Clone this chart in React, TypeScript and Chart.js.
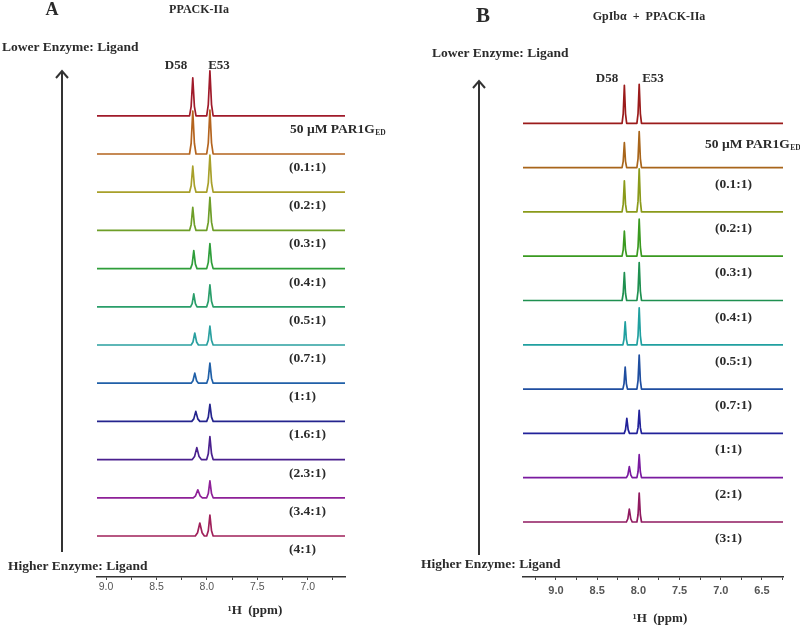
import React, { useEffect, useRef } from "react";
import { Chart, registerables } from "chart.js";

Chart.register(...registerables);

// ---------------- shared text ----------------
const freeLigandMain = "50 µM PAR1G";
const freeLigandSub = "ED";
const peakNames = ["D58", "E53"];
const lowerLabel = "Lower Enzyme: Ligand";
const higherLabel = "Higher Enzyme: Ligand";
const axisTitle = "¹H  (ppm)";

// ---------------- Panel A: PPACK-IIa ----------------
const panelLetterA = "A";
const panelTitleA = "PPACK-IIa";
const ratioLabelsA = ["(0.1:1)", "(0.2:1)", "(0.3:1)", "(0.4:1)", "(0.5:1)", "(0.7:1)", "(1:1)", "(1.6:1)", "(2.3:1)", "(3.4:1)", "(4:1)"];
const d58PpmA = [8.14, 8.14, 8.14, 8.14, 8.13, 8.13, 8.12, 8.12, 8.11, 8.1, 8.09, 8.07];
const d58HeightA = [38, 43, 26, 23, 18, 13, 12, 10, 10, 12, 8, 13];
const d58WidthA = [0.032, 0.032, 0.032, 0.032, 0.032, 0.032, 0.036, 0.036, 0.04, 0.045, 0.045, 0.045];
const e53PpmA = [7.97, 7.97, 7.97, 7.97, 7.97, 7.97, 7.97, 7.97, 7.97, 7.97, 7.97, 7.97];
const e53HeightA = [45, 44, 37, 33, 25, 22, 19, 20, 17, 23, 17, 21];
const e53WidthA = [0.032, 0.032, 0.032, 0.032, 0.032, 0.032, 0.032, 0.032, 0.032, 0.032, 0.032, 0.032];
const colorsA = ["#a01a2a", "#b4641e", "#a8a02a", "#6e9e28", "#2e9e3a", "#2a9e6a", "#2aa0a0", "#2060a8", "#24248e", "#4a208e", "#8e2098", "#a0205a"];
const ppmTicksA = [9.0, 8.75, 8.5, 8.25, 8.0, 7.75, 7.5, 7.25, 7.0, 6.75];

// ---------------- Panel B: GpIbα + PPACK-IIa ----------------
const panelLetterB = "B";
const panelTitleB = "GpIbα  +  PPACK-IIa";
const ratioLabelsB = ["(0.1:1)", "(0.2:1)", "(0.3:1)", "(0.4:1)", "(0.5:1)", "(0.7:1)", "(1:1)", "(2:1)", "(3:1)"];
const d58PpmB = [8.17, 8.17, 8.17, 8.17, 8.17, 8.16, 8.16, 8.14, 8.11, 8.11];
const d58HeightB = [38, 25, 31, 25, 28, 23, 22, 15, 11, 13];
const d58WidthB = [0.028, 0.028, 0.028, 0.028, 0.028, 0.028, 0.028, 0.032, 0.035, 0.035];
const e53PpmB = [7.99, 7.99, 7.99, 7.99, 7.99, 7.99, 7.99, 7.99, 7.99, 7.99];
const e53HeightB = [39, 36, 43, 37, 38, 37, 34, 23, 23, 29];
const e53WidthB = [0.028, 0.028, 0.028, 0.028, 0.028, 0.028, 0.028, 0.028, 0.028, 0.028];
const colorsB = ["#9b1b1b", "#a8651a", "#8a9a1a", "#3a9a20", "#1f9050", "#20a0a0", "#1f4ea0", "#22229a", "#7a1aa0", "#901a60"];
const ppmTicksB = [9.25, 9.0, 8.75, 8.5, 8.25, 8.0, 7.75, 7.5, 7.25, 7.0, 6.75, 6.5, 6.25];

// peak line-shape profile: [offset in half-widths, relative height]
const PEAK_PROFILE = [
  [1, 0],
  [0.5, 0.25],
  [0, 1],
  [-0.5, 0.25],
  [-1, 0],
];

const SERIF = '"Liberation Serif", "Times New Roman", serif';
const SANS = '"Liberation Sans", Arial, sans-serif';
const TEXT_COLOR = "#2b2b2b";

function buildTrace(ppmMax, ppmMin, peaks, offset) {
  const pts = [{ x: ppmMax, y: offset }];
  const sorted = [...peaks].sort((a, b) => b.ppm - a.ppm);
  sorted.forEach((p) => {
    PEAK_PROFILE.forEach(([dx, rel]) => {
      pts.push({ x: p.ppm + dx * p.w, y: offset + rel * p.h });
    });
  });
  pts.push({ x: ppmMin, y: offset });
  return pts;
}

const panelTextPlugin = {
  id: "panelText",
  afterDraw(chart, _args, o) {
    const ctx = chart.ctx;
    const ys = chart.scales.y;
    ctx.save();
    ctx.fillStyle = TEXT_COLOR;
    ctx.textBaseline = "alphabetic";

    // panel letter
    ctx.textAlign = "center";
    ctx.font = `bold ${o.letterSize}px ${SERIF}`;
    ctx.fillText(o.letter, o.letterX, o.letterY);
    // panel title
    ctx.font = `bold 12px ${SERIF}`;
    ctx.fillText(o.title, o.titleX, o.titleY);
    // peak names
    ctx.font = `bold 13px ${SERIF}`;
    ctx.fillText(peakNames[0], o.d58X, o.peakNameY);
    ctx.fillText(peakNames[1], o.e53X, o.peakNameY);
    // axis title
    ctx.font = `bold 13px ${SERIF}`;
    ctx.fillText(axisTitle, o.axisTitleX, o.axisTitleY);

    // lower / higher labels
    ctx.textAlign = "left";
    ctx.font = `bold 13.5px ${SERIF}`;
    ctx.fillText(lowerLabel, o.lowerX, o.lowerY);
    ctx.fillText(higherLabel, o.higherX, o.higherY);

    // arrow
    ctx.strokeStyle = "#333";
    ctx.lineWidth = 2;
    ctx.beginPath();
    ctx.moveTo(o.arrowX, o.arrowBottom);
    ctx.lineTo(o.arrowX, o.arrowTip + 1);
    ctx.stroke();
    ctx.beginPath();
    ctx.moveTo(o.arrowX - 6, o.arrowTip + 7);
    ctx.lineTo(o.arrowX, o.arrowTip);
    ctx.lineTo(o.arrowX + 6, o.arrowTip + 7);
    ctx.stroke();

    // trace labels
    const n = o.count;
    for (let k = 0; k < n; k++) {
      const base = ys.getPixelForValue(o.firstOffset + (n - 1 - k) * o.spacing);
      if (k === 0) {
        ctx.font = `bold 13.5px ${SERIF}`;
        const y = base + o.firstLabelDy;
        ctx.fillText(freeLigandMain, o.firstLabelX, y);
        const w = ctx.measureText(freeLigandMain).width;
        ctx.font = `bold 7.5px ${SERIF}`;
        ctx.fillText(freeLigandSub, o.firstLabelX + w + 0.5, y + 2);
      } else {
        ctx.font = `bold 13.5px ${SERIF}`;
        ctx.fillText(o.ratioLabels[k - 1], o.labelX, base + o.labelDy);
      }
    }
    ctx.restore();
  },
};

function makeConfig(p) {
  const n = p.d58Ppm.length;
  const traces = [];
  for (let k = 0; k < n; k++) {
    const offset = p.firstOffset + (n - 1 - k) * p.spacing;
    traces.push({
      data: buildTrace(
        p.ppmMax,
        p.ppmMin,
        [
          { ppm: p.d58Ppm[k], h: p.d58Height[k], w: p.d58Width[k] },
          { ppm: p.e53Ppm[k], h: p.e53Height[k], w: p.e53Width[k] },
        ],
        offset
      ),
      borderColor: p.colors[k],
      borderWidth: 1.7,
      borderJoinStyle: "round",
      pointRadius: 0,
      fill: false,
      tension: 0,
    });
  }
  // lower traces drawn on top (dataset 0 is drawn last)
  const datasets = traces.reverse();
  return {
    type: "line",
    data: { datasets },
    plugins: [panelTextPlugin],
    options: {
      responsive: false,
      animation: false,
      events: [],
      layout: { padding: { left: p.padLeft, right: p.padRight, top: p.padTop, bottom: 0 } },
      plugins: {
        legend: { display: false },
        tooltip: { enabled: false },
        panelText: { ...p.text, count: n, firstOffset: p.firstOffset, spacing: p.spacing },
      },
      scales: {
        x: {
          type: "linear",
          reverse: true,
          min: p.ppmMin,
          max: p.ppmMax,
          afterBuildTicks: (s) => {
            s.ticks = p.ticks.map((v) => ({ value: v }));
          },
          afterFit: (s) => {
            s.height = p.axisHeight;
          },
          ticks: {
            autoSkip: false,
            maxRotation: 0,
            padding: p.tickPadding,
            color: "#555",
            font: { family: SANS, size: p.tickFontSize, weight: p.tickWeight },
            callback: (v) => (Math.abs(v * 2 - Math.round(v * 2)) < 1e-6 ? Number(v).toFixed(1) : ""),
          },
          grid: { display: true, drawOnChartArea: false, drawTicks: true, tickLength: 3, color: "#444", lineWidth: 1 },
          border: { display: true, color: "#333", width: 1.5 },
        },
        y: { display: false, min: 0, max: p.yMax },
      },
    },
  };
}

const panelA = {
  ppmMin: 6.63,
  ppmMax: 9.09,
  ticks: ppmTicksA,
  d58Ppm: d58PpmA,
  d58Height: d58HeightA,
  d58Width: d58WidthA,
  e53Ppm: e53PpmA,
  e53Height: e53HeightA,
  e53Width: e53WidthA,
  colors: colorsA,
  padLeft: 97,
  padRight: 55,
  padTop: 60,
  axisHeight: 50,
  yMax: 517,
  firstOffset: 41,
  spacing: 38.2,
  tickPadding: 1,
  tickFontSize: 10.5,
  tickWeight: "normal",
  text: {
    letter: panelLetterA,
    letterSize: 18,
    letterX: 52,
    letterY: 15,
    title: panelTitleA,
    titleX: 199,
    titleY: 13,
    d58X: 176,
    e53X: 219,
    peakNameY: 69,
    axisTitleX: 255,
    axisTitleY: 614,
    lowerX: 2,
    lowerY: 51,
    higherX: 8,
    higherY: 570,
    arrowX: 62,
    arrowTip: 71,
    arrowBottom: 552,
    firstLabelX: 290,
    firstLabelDy: 17,
    labelX: 289,
    labelDy: 17,
    ratioLabels: ratioLabelsA,
  },
};

const panelB = {
  ppmMin: 6.245,
  ppmMax: 9.4,
  ticks: ppmTicksB,
  d58Ppm: d58PpmB,
  d58Height: d58HeightB,
  d58Width: d58WidthB,
  e53Ppm: e53PpmB,
  e53Height: e53HeightB,
  e53Width: e53WidthB,
  colors: colorsB,
  padLeft: 123,
  padRight: 17,
  padTop: 60,
  axisHeight: 50,
  yMax: 517,
  firstOffset: 55,
  spacing: 44.3,
  tickPadding: 4,
  tickFontSize: 11,
  tickWeight: "bold",
  text: {
    letter: panelLetterB,
    letterSize: 21,
    letterX: 83,
    letterY: 22,
    title: panelTitleB,
    titleX: 249,
    titleY: 20,
    d58X: 207,
    e53X: 253,
    peakNameY: 82,
    axisTitleX: 260,
    axisTitleY: 622,
    lowerX: 32,
    lowerY: 57,
    higherX: 21,
    higherY: 568,
    arrowX: 79,
    arrowTip: 81,
    arrowBottom: 555,
    firstLabelX: 305,
    firstLabelDy: 25,
    labelX: 315,
    labelDy: 20,
    ratioLabels: ratioLabelsB,
  },
};

function Panel({ spec, left }) {
  const ref = useRef(null);
  useEffect(() => {
    const chart = new Chart(ref.current, makeConfig(spec));
    return () => chart.destroy();
  }, [spec]);
  return (
    <canvas
      ref={ref}
      width={400}
      height={627}
      style={{ position: "absolute", left, top: 0, width: 400, height: 627 }}
    />
  );
}

export default function App() {
  return (
    <div style={{ position: "absolute", left: 0, top: 0, width: 800, height: 627, background: "#fff", overflow: "hidden" }}>
      <Panel spec={panelA} left={0} />
      <Panel spec={panelB} left={400} />
    </div>
  );
}
